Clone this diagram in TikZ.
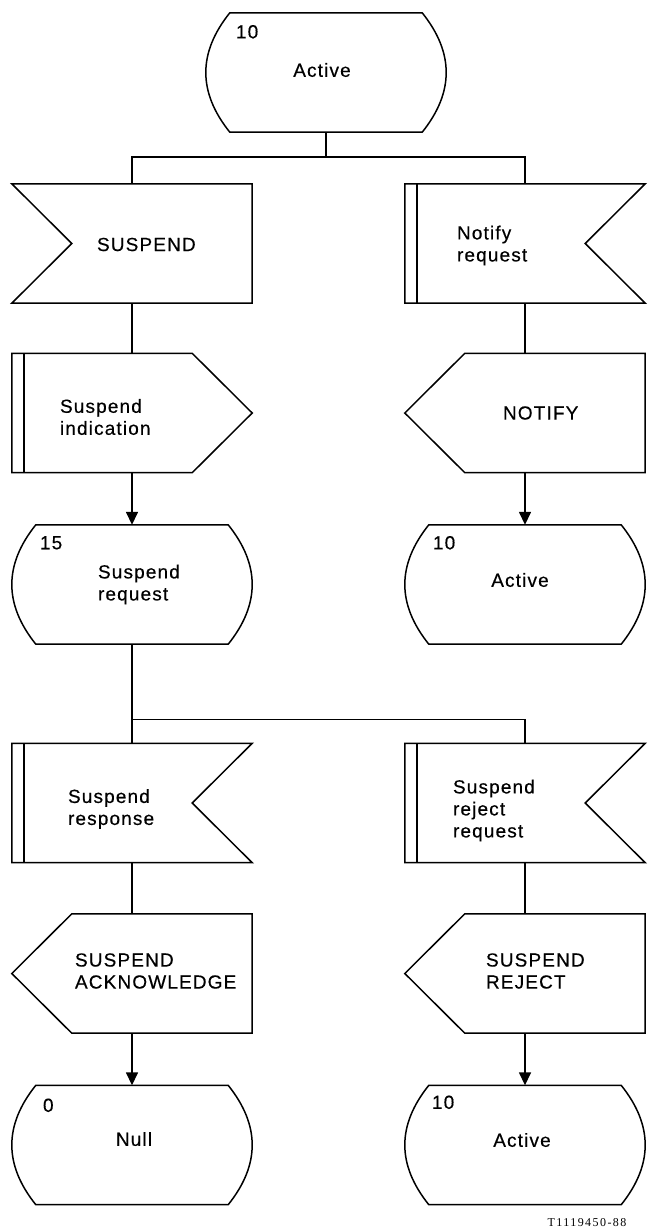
\documentclass[tikz,border=0pt]{standalone}
\usepackage{fontspec}
\setmainfont{Liberation Sans}[LetterSpace=6,FakeBold=0.4]
\newfontfamily\capfont{Liberation Serif}[LetterSpace=12]
\usetikzlibrary{arrows.meta,calc}

\tikzset{
  sdlline/.style={line width=1.5pt,line join=miter},
  sdlbox/.style={rectangle,inner sep=0pt,minimum width=240pt,minimum height=119pt},
  sdltext/.style={anchor=west,inner sep=0pt,align=left,font=\fontsize{19}{22}\selectfont},
  sdlname/.style={inner sep=0pt,font=\fontsize{19}{22}\selectfont},
  sdlnum/.style={anchor=west,inner sep=0pt,font=\fontsize{19}{22}\selectfont},
  flow/.style={line width=1.5pt},
  flowarr/.style={flow,-{Triangle[width=12pt,length=13pt]}},
}

% state: flat top and bottom, bulging sides
\newcommand{\sdlstate}[1]{%
  \draw[sdlline] ($(#1.north west)+(24,0)$) -- ($(#1.north east)+(-24,0)$)
    .. controls ($(#1.north east)+(8,-40)$) and ($(#1.south east)+(8,40)$) .. ($(#1.south east)+(-24,0)$)
    -- ($(#1.south west)+(24,0)$)
    .. controls ($(#1.south west)+(-8,40)$) and ($(#1.north west)+(-8,-40)$) .. ($(#1.north west)+(24,0)$) -- cycle;}
% input, notch on the left
\newcommand{\sdlinleft}[1]{%
  \draw[sdlline] (#1.north west) -- (#1.north east) -- (#1.south east) -- (#1.south west)
    -- ($(#1.west)+(60,0)$) -- cycle;}
% input, notch on the right, double bar
\newcommand{\sdlinright}[1]{%
  \draw[sdlline] (#1.north west) -- (#1.north east) -- ($(#1.east)+(-60,0)$) -- (#1.south east)
    -- (#1.south west) -- cycle;
  \draw[sdlline] ($(#1.north west)+(12,0)$) -- ($(#1.south west)+(12,0)$);}
% output, point on the right, double bar
\newcommand{\sdloutright}[1]{%
  \draw[sdlline] (#1.north west) -- ($(#1.north east)+(-60,0)$) -- (#1.east)
    -- ($(#1.south east)+(-60,0)$) -- (#1.south west) -- cycle;
  \draw[sdlline] ($(#1.north west)+(12,0)$) -- ($(#1.south west)+(12,0)$);}
% output, point on the left
\newcommand{\sdloutleft}[1]{%
  \draw[sdlline] ($(#1.north west)+(60,0)$) -- (#1.north east) -- (#1.south east)
    -- ($(#1.south west)+(60,0)$) -- (#1.west) -- cycle;}

\begin{document}
\begin{tikzpicture}[x=1pt,y=1pt]
\useasboundingbox (0,0) rectangle (653,-1229);

% boxes
\node[sdlbox] (st10a) at (326,-72.5) {};
\node[sdlbox] (suspin) at (132,-243.5) {};
\node[sdlbox] (notifyreq) at (525,-243.5) {};
\node[sdlbox] (suspind) at (132,-413) {};
\node[sdlbox] (notify) at (525,-413) {};
\node[sdlbox] (st15) at (132,-584.5) {};
\node[sdlbox] (st10b) at (525,-584.5) {};
\node[sdlbox] (suspresp) at (132,-803) {};
\node[sdlbox] (rejreq) at (525,-803) {};
\node[sdlbox] (suspack) at (132,-973.5) {};
\node[sdlbox] (suspreject) at (525,-973.5) {};
\node[sdlbox] (stnull) at (132,-1145) {};
\node[sdlbox] (st10c) at (525,-1145) {};

\sdlstate{st10a}
\sdlinleft{suspin}
\sdlinright{notifyreq}
\sdloutright{suspind}
\sdloutleft{notify}
\sdlstate{st15}
\sdlstate{st10b}
\sdlinright{suspresp}
\sdlinright{rejreq}
\sdloutleft{suspack}
\sdloutleft{suspreject}
\sdlstate{stnull}
\sdlstate{st10c}

% texts
\node[sdlnum] (st10a-n) at ($(st10a.north west)+(30,-19)$) {10};
\node[sdlname] (st10a-t) at ($(st10a)+(-4,2.5)$) {Active};
\node[sdltext] (suspin-t) at ($(suspin.west)+(85,-1)$) {SUSPEND};
\node[sdltext] (notifyreq-t) at ($(notifyreq.west)+(52,-2)$) {Notify\\request};
\node[sdltext] (suspind-t) at ($(suspind.west)+(48,-4)$) {Suspend\\indication};
\node[sdltext] (notify-t) at ($(notify.west)+(98,0)$) {NOTIFY};
\node[sdlnum] (st15-n) at ($(st15.north west)+(28,-18)$) {15};
\node[sdltext] (st15-t) at ($(st15.west)+(86,0)$) {Suspend\\request};
\node[sdlnum] (st10b-n) at ($(st10b.north west)+(28,-18)$) {10};
\node[sdlname] (st10b-t) at ($(st10b)+(-5,4.5)$) {Active};
\node[sdltext] (suspresp-t) at ($(suspresp.west)+(56,-6)$) {Suspend\\response};
\node[sdltext] (rejreq-t) at ($(rejreq.west)+(48,-7.5)$) {Suspend\\reject\\request};
\node[sdltext] (suspack-t) at ($(suspack.west)+(63,2.5)$) {SUSPEND\\ACKNOWLEDGE};
\node[sdltext] (suspreject-t) at ($(suspreject.west)+(81,2.5)$) {SUSPEND\\REJECT};
\node[sdlnum] (stnull-n) at ($(stnull.north west)+(31,-20)$) {0};
\node[sdlname] (stnull-t) at ($(stnull)+(2,6)$) {Null};
\node[sdlnum] (st10c-n) at ($(st10c.north west)+(27,-17)$) {10};
\node[sdlname] (st10c-t) at ($(st10c)+(-3,5)$) {Active};

% connectors
\draw[flow] (st10a.south) -- ++(0,-25) coordinate (fork1);
\draw[flow] (suspin.north) |- (fork1) -| (notifyreq.north);
\draw[flow] (suspin.south) -- (suspind.north);
\draw[flowarr] (suspind.south) -- (st15.north);
\draw[flow] (notifyreq.south) -- (notify.north);
\draw[flowarr] (notify.south) -- (st10b.north);
\draw[flow] (st15.south) -- (suspresp.north);
\coordinate (fork2) at ($(st15.south)+(0,-75.5)$);
\draw[flow] (fork2) -| (rejreq.north);
\draw[flow] (suspresp.south) -- (suspack.north);
\draw[flowarr] (suspack.south) -- (stnull.north);
\draw[flow] (rejreq.south) -- (suspreject.north);
\draw[flowarr] (suspreject.south) -- (st10c.north);

\node[inner sep=0pt,font=\capfont\fontsize{12}{12}\selectfont] (figid) at (587,-1223) {T1119450-88};
\end{tikzpicture}
\end{document}
